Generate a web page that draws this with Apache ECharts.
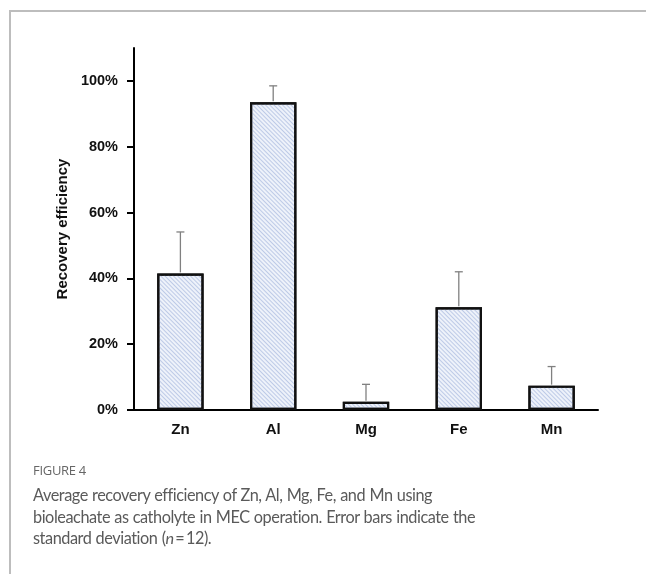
<!DOCTYPE html>
<html>
<head>
<meta charset="utf-8">
<script src="https://cdn.jsdelivr.net/npm/echarts@6/dist/echarts.min.js"></script>
<style>
  html, body { margin:0; padding:0; background:#fff; }
  #wrap { position:relative; width:646px; height:574px; overflow:hidden; }
  #frame { position:absolute; left:9px; top:10px; right:0; bottom:-5px; border-top:2px solid #bdbdbd; border-left:2px solid #bdbdbd; }
  #chart { position:absolute; left:0; top:0; width:646px; height:574px; }
  #fig { position:absolute; left:33px; top:461px; font-family:"Open Sans", sans-serif; font-size:13px; color:#666; letter-spacing:-0.3px; }
  #cap { position:absolute; left:33px; top:484px; width:610px; white-space:nowrap; font-family:Lato, sans-serif; font-size:16.3px; line-height:21.5px; color:#5a5a5a; letter-spacing:-0.45px; word-spacing:0.5px; }
</style>
</head>
<body>
<div id="wrap">
  <div id="frame"></div>
  <div id="chart"></div>
  <div id="fig">FIGURE 4</div>
  <div id="cap">Average recovery efficiency of Zn, Al, Mg, Fe, and Mn using<br>bioleachate as catholyte in MEC operation. Error bars indicate the<br>standard deviation (<i>n</i>&#8201;=&#8201;12).</div>
</div>
<script>
const categories = ['Zn', 'Al', 'Mg', 'Fe', 'Mn'];
const values = [41.5, 93.5, 2.5, 31.2, 7.4];
const errors = [12.6, 5.0, 5.3, 10.8, 5.8];
const yTicks = [0, 20, 40, 60, 80, 100];

const chart = echarts.init(document.getElementById('chart'), null, { renderer: 'canvas' });
const errData = values.map((v, i) => [i, v, v + errors[i]]);

chart.setOption({
  animation: false,
  grid: { left: 134, right: 48, top: 48, bottom: 164, containLabel: false },
  xAxis: {
    type: 'category',
    data: categories,
    axisLine: { lineStyle: { color: '#000', width: 2 } },
    axisTick: { show: false },
    axisLabel: { color: '#111', fontWeight: 'bold', fontSize: 15, fontFamily: 'Liberation Sans, Arial, sans-serif', margin: 12 }
  },
  yAxis: {
    type: 'value',
    min: 0, max: 110,
    name: 'Recovery efficiency',
    nameLocation: 'middle',
    nameGap: 62,
    nameTextStyle: { color: '#111', fontWeight: 'bold', fontSize: 15, fontFamily: 'Liberation Sans, Arial, sans-serif' },
    splitLine: { show: false },
    axisLine: { show: true, lineStyle: { color: '#000', width: 2 } },
    axisTick: { show: true, length: 7, lineStyle: { color: '#000', width: 2 }, customValues: yTicks },
    axisLabel: { color: '#111', fontWeight: 'bold', fontSize: 14.5, fontFamily: 'Liberation Sans, Arial, sans-serif', margin: 16, formatter: '{value}%', customValues: yTicks }
  },
  series: [
    {
      type: 'bar',
      data: values,
      barWidth: '50%',
      itemStyle: {
        color: '#eef2fa',
        borderColor: '#111',
        borderWidth: 2.2,
        decal: {
          symbol: 'rect',
          symbolSize: 1,
          dashArrayX: [1, 0],
          dashArrayY: [1, 2],
          rotation: Math.PI / 4,
          color: 'rgba(150,170,215,0.55)'
        }
      },
      z: 2
    },
    {
      type: 'custom',
      data: errData,
      z: 3,
      renderItem: function (params, api) {
        const x = api.value(0);
        const lo = api.coord([x, api.value(1)]);
        const hi = api.coord([x, api.value(2)]);
        const cap = 4;
        return {
          type: 'group',
          children: [
            { type: 'line', shape: { x1: lo[0], y1: lo[1] - 1, x2: hi[0], y2: hi[1] }, style: { stroke: '#808080', lineWidth: 1.3 } },
            { type: 'line', shape: { x1: hi[0] - cap, y1: hi[1], x2: hi[0] + cap, y2: hi[1] }, style: { stroke: '#808080', lineWidth: 1.3 } }
          ]
        };
      }
    }
  ]
});
</script>
</body>
</html>
